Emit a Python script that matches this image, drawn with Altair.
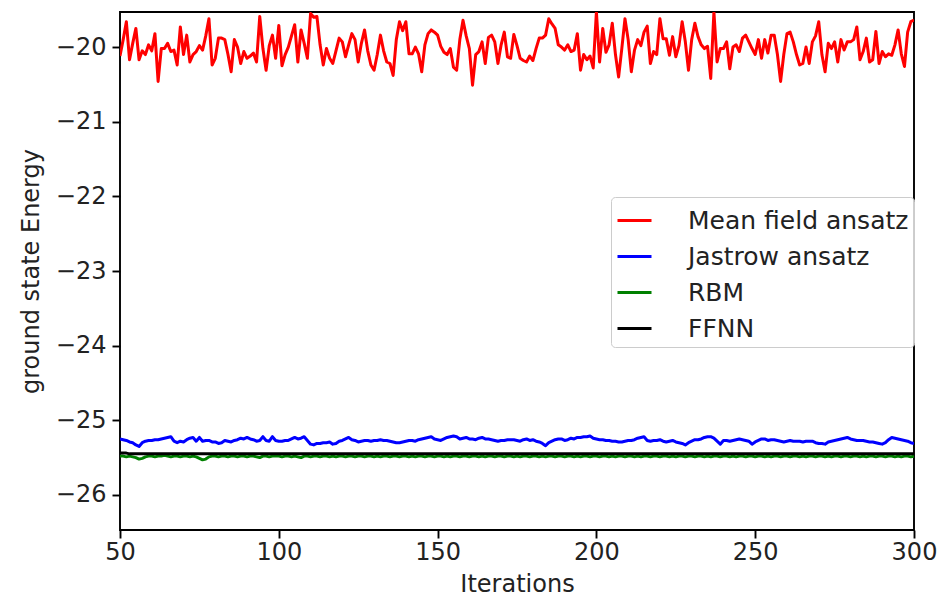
import altair as alt
import pandas as pd

# x values: iterations 50 .. 300
iterations = list(range(50, 301))

# Mean field ansatz (red)
mean_field = [
    -20.12, -19.90, -19.66, -20.17, -19.95, -19.75, -20.17, -20.05, -20.10, -19.97,
    -20.05, -19.82, -20.46, -20.02, -20.02, -19.95, -20.06, -20.04, -20.24, -19.73,
    -20.10, -19.84, -20.20, -20.10, -20.06, -19.98, -20.04, -19.85, -19.62, -20.24,
    -20.15, -19.88, -19.88, -19.90, -20.10, -20.33, -19.90, -20.00, -20.22, -20.06,
    -20.15, -20.12, -20.08, -20.20, -19.59, -20.02, -20.31, -19.98, -19.84, -20.15,
    -19.71, -20.25, -20.10, -20.00, -19.85, -19.70, -20.20, -19.77, -19.95, -20.15,
    -19.55, -19.60, -19.59, -19.97, -20.24, -20.02, -20.15, -20.22, -20.05, -19.88,
    -19.93, -20.13, -19.97, -19.82, -19.90, -20.20, -19.95, -19.77, -20.05, -20.24,
    -20.31, -20.10, -19.84, -20.05, -20.20, -20.22, -20.38, -19.90, -19.66, -19.78,
    -19.66, -20.09, -20.09, -20.00, -20.09, -20.33, -19.97, -19.82, -19.77, -19.80,
    -19.84, -19.99, -20.07, -20.10, -20.02, -20.27, -20.31, -19.90, -19.64, -19.85,
    -20.02, -20.51, -20.10, -20.06, -19.93, -20.22, -19.87, -19.84, -19.93, -20.22,
    -19.97, -19.80, -20.13, -20.15, -19.83, -19.98, -20.15, -20.18, -20.20, -20.12,
    -20.18, -20.02, -19.88, -19.88, -19.84, -19.62, -19.69, -19.75, -19.97, -20.00,
    -20.04, -19.97, -20.06, -20.04, -19.82, -20.31, -20.10, -20.17, -20.12, -20.28,
    -19.53, -20.20, -19.75, -20.07, -19.97, -19.68, -20.10, -20.40, -20.02, -19.62,
    -19.90, -20.33, -20.04, -19.90, -19.98, -19.80, -19.72, -20.22, -20.06, -20.10,
    -19.62, -19.89, -19.89, -20.11, -19.86, -20.13, -19.98, -19.66, -19.93, -20.31,
    -19.90, -19.68, -19.86, -19.97, -20.02, -19.99, -20.42, -19.53, -20.20, -20.02,
    -20.02, -19.93, -20.29, -20.00, -19.97, -20.06, -19.88, -19.84, -19.93, -20.02,
    -20.10, -19.90, -20.15, -19.90, -20.08, -19.84, -19.84, -20.10, -20.46, -20.10,
    -19.82, -19.80, -19.93, -20.10, -20.24, -20.22, -20.00, -20.22, -19.93, -19.85,
    -19.66, -20.10, -20.33, -19.95, -20.02, -19.93, -20.20, -19.90, -20.04, -19.93,
    -19.93, -19.90, -19.73, -20.17, -20.06, -19.88, -20.20, -20.17, -19.79, -20.22,
    -20.06, -20.13, -20.09, -20.11, -19.97, -19.77, -20.09, -20.26, -19.80, -19.66,
    -19.64,
]

# Jastrow ansatz (blue)
jastrow = [
    -25.25, -25.26, -25.27, -25.29, -25.30, -25.33, -25.35, -25.30, -25.28, -25.27,
    -25.27, -25.26, -25.26, -25.25, -25.24, -25.23, -25.22, -25.28, -25.30, -25.28,
    -25.29, -25.26, -25.24, -25.23, -25.28, -25.23, -25.28, -25.27, -25.27, -25.29,
    -25.29, -25.31, -25.30, -25.27, -25.28, -25.29, -25.27, -25.26, -25.24, -25.25,
    -25.23, -25.25, -25.26, -25.28, -25.27, -25.22, -25.27, -25.28, -25.22, -25.27,
    -25.28, -25.28, -25.27, -25.27, -25.25, -25.23, -25.25, -25.24, -25.22, -25.27,
    -25.32, -25.33, -25.31, -25.31, -25.30, -25.30, -25.29, -25.32, -25.31, -25.28,
    -25.27, -25.25, -25.23, -25.26, -25.27, -25.29, -25.28, -25.27, -25.27, -25.28,
    -25.27, -25.27, -25.26, -25.27, -25.27, -25.28, -25.29, -25.30, -25.30, -25.29,
    -25.28, -25.27, -25.27, -25.28, -25.26, -25.25, -25.24, -25.23, -25.22, -25.25,
    -25.26, -25.27, -25.25, -25.23, -25.22, -25.21, -25.22, -25.25, -25.24, -25.23,
    -25.25, -25.25, -25.26, -25.24, -25.23, -25.25, -25.25, -25.26, -25.27, -25.28,
    -25.27, -25.27, -25.26, -25.26, -25.26, -25.27, -25.28, -25.26, -25.25, -25.27,
    -25.26, -25.28, -25.29, -25.31, -25.34, -25.30, -25.28, -25.26, -25.25, -25.25,
    -25.27, -25.26, -25.24, -25.25, -25.23, -25.23, -25.22, -25.22, -25.21, -25.24,
    -25.25, -25.26, -25.26, -25.27, -25.27, -25.28, -25.28, -25.29, -25.29, -25.28,
    -25.27, -25.27, -25.26, -25.24, -25.23, -25.22, -25.27, -25.28, -25.27, -25.27,
    -25.26, -25.28, -25.29, -25.28, -25.27, -25.29, -25.30, -25.31, -25.33, -25.30,
    -25.28, -25.26, -25.26, -25.25, -25.23, -25.22, -25.22, -25.24, -25.28, -25.32,
    -25.27, -25.27, -25.28, -25.27, -25.26, -25.25, -25.26, -25.27, -25.28, -25.32,
    -25.29, -25.27, -25.25, -25.25, -25.27, -25.26, -25.26, -25.27, -25.28, -25.29,
    -25.28, -25.27, -25.28, -25.28, -25.28, -25.29, -25.28, -25.28, -25.28, -25.30,
    -25.31, -25.31, -25.32, -25.29, -25.28, -25.27, -25.26, -25.25, -25.24, -25.23,
    -25.25, -25.26, -25.27, -25.27, -25.27, -25.28, -25.29, -25.29, -25.30, -25.31,
    -25.32, -25.30, -25.26, -25.23, -25.24, -25.25, -25.26, -25.27, -25.28, -25.30,
    -25.31,
]

# RBM (green)
rbm = [
    -25.48, -25.48, -25.49, -25.48, -25.49, -25.50, -25.52, -25.51, -25.49, -25.48,
    -25.48, -25.49, -25.48, -25.48, -25.47, -25.48, -25.49, -25.48, -25.48, -25.49,
    -25.48, -25.48, -25.49, -25.48, -25.49, -25.51, -25.53, -25.52, -25.49, -25.48,
    -25.48, -25.49, -25.48, -25.48, -25.49, -25.48, -25.48, -25.49, -25.48, -25.48,
    -25.49, -25.48, -25.48, -25.49, -25.50, -25.48, -25.48, -25.49, -25.48, -25.48,
    -25.48, -25.49, -25.48, -25.48, -25.49, -25.48, -25.49, -25.50, -25.48, -25.48,
    -25.49, -25.48, -25.48, -25.49, -25.48, -25.48, -25.49, -25.48, -25.49, -25.48,
    -25.48, -25.49, -25.48, -25.48, -25.49, -25.48, -25.48, -25.49, -25.48, -25.48,
    -25.49, -25.48, -25.49, -25.48, -25.48, -25.49, -25.48, -25.48, -25.49, -25.48,
    -25.48, -25.49, -25.48, -25.49, -25.48, -25.48, -25.49, -25.48, -25.48, -25.49,
    -25.48, -25.48, -25.49, -25.48, -25.49, -25.48, -25.48, -25.49, -25.48, -25.48,
    -25.49, -25.48, -25.48, -25.49, -25.48, -25.49, -25.48, -25.48, -25.49, -25.48,
    -25.48, -25.49, -25.48, -25.48, -25.49, -25.48, -25.49, -25.48, -25.48, -25.49,
    -25.48, -25.48, -25.49, -25.48, -25.49, -25.48, -25.48, -25.49, -25.48, -25.48,
    -25.49, -25.48, -25.48, -25.49, -25.48, -25.49, -25.48, -25.48, -25.49, -25.48,
    -25.48, -25.49, -25.48, -25.48, -25.49, -25.48, -25.49, -25.48, -25.48, -25.49,
    -25.48, -25.48, -25.49, -25.48, -25.49, -25.48, -25.48, -25.49, -25.48, -25.48,
    -25.49, -25.48, -25.48, -25.49, -25.48, -25.49, -25.48, -25.48, -25.49, -25.48,
    -25.48, -25.49, -25.48, -25.48, -25.49, -25.48, -25.49, -25.48, -25.48, -25.49,
    -25.48, -25.48, -25.49, -25.48, -25.49, -25.48, -25.48, -25.49, -25.48, -25.48,
    -25.49, -25.48, -25.48, -25.49, -25.48, -25.49, -25.48, -25.48, -25.49, -25.48,
    -25.48, -25.49, -25.48, -25.48, -25.49, -25.48, -25.49, -25.48, -25.48, -25.49,
    -25.48, -25.48, -25.49, -25.48, -25.49, -25.48, -25.48, -25.49, -25.48, -25.48,
    -25.49, -25.48, -25.48, -25.49, -25.48, -25.49, -25.48, -25.48, -25.49, -25.48,
    -25.48, -25.49, -25.48, -25.48, -25.49, -25.48, -25.49, -25.48, -25.48, -25.49,
    -25.48,
]

# FFNN (black): essentially flat
ffnn = [
    -25.44, -25.44, -25.44, -25.45, -25.45, -25.45, -25.45, -25.45, -25.45, -25.45,
    -25.45, -25.45, -25.45, -25.45, -25.45, -25.45, -25.45, -25.45, -25.45, -25.45,
    -25.45, -25.45, -25.45, -25.45, -25.45, -25.45, -25.45, -25.45, -25.45, -25.45,
    -25.45, -25.45, -25.45, -25.45, -25.45, -25.45, -25.45, -25.45, -25.45, -25.45,
    -25.45, -25.45, -25.45, -25.45, -25.45, -25.45, -25.45, -25.45, -25.45, -25.45,
    -25.45, -25.45, -25.45, -25.45, -25.45, -25.45, -25.45, -25.45, -25.45, -25.45,
    -25.45, -25.45, -25.45, -25.45, -25.45, -25.45, -25.45, -25.45, -25.45, -25.45,
    -25.45, -25.45, -25.45, -25.45, -25.45, -25.45, -25.45, -25.45, -25.45, -25.45,
    -25.45, -25.45, -25.45, -25.45, -25.45, -25.45, -25.45, -25.45, -25.45, -25.45,
    -25.45, -25.45, -25.45, -25.45, -25.45, -25.45, -25.45, -25.45, -25.45, -25.45,
    -25.45, -25.45, -25.45, -25.45, -25.45, -25.45, -25.45, -25.45, -25.45, -25.45,
    -25.45, -25.45, -25.45, -25.45, -25.45, -25.45, -25.45, -25.45, -25.45, -25.45,
    -25.45, -25.45, -25.45, -25.45, -25.45, -25.45, -25.45, -25.45, -25.45, -25.45,
    -25.45, -25.45, -25.45, -25.45, -25.45, -25.45, -25.45, -25.45, -25.45, -25.45,
    -25.45, -25.45, -25.45, -25.45, -25.45, -25.45, -25.45, -25.45, -25.45, -25.45,
    -25.45, -25.45, -25.45, -25.45, -25.45, -25.45, -25.45, -25.45, -25.45, -25.45,
    -25.45, -25.45, -25.45, -25.45, -25.45, -25.45, -25.45, -25.45, -25.45, -25.45,
    -25.45, -25.45, -25.45, -25.45, -25.45, -25.45, -25.45, -25.45, -25.45, -25.45,
    -25.45, -25.45, -25.45, -25.45, -25.45, -25.45, -25.45, -25.45, -25.45, -25.45,
    -25.45, -25.45, -25.45, -25.45, -25.45, -25.45, -25.45, -25.45, -25.45, -25.45,
    -25.45, -25.45, -25.45, -25.45, -25.45, -25.45, -25.45, -25.45, -25.45, -25.45,
    -25.45, -25.45, -25.45, -25.45, -25.45, -25.45, -25.45, -25.45, -25.45, -25.45,
    -25.45, -25.45, -25.45, -25.45, -25.45, -25.45, -25.45, -25.45, -25.45, -25.45,
    -25.45, -25.45, -25.45, -25.45, -25.45, -25.45, -25.45, -25.45, -25.45, -25.45,
    -25.45, -25.45, -25.45, -25.45, -25.45, -25.45, -25.45, -25.45, -25.45, -25.45,
    -25.45,
]

labels = ["Mean field ansatz", "Jastrow ansatz", "RBM", "FFNN"]
colors = ["#ff0000", "#0000ff", "#008000", "#000000"]
x_ticks = [50, 100, 150, 200, 250, 300]
y_ticks = [-26, -25, -24, -23, -22, -21, -20]

rows = []
for k, (name, vals) in enumerate(zip(labels, [mean_field, jastrow, rbm, ffnn])):
    for it, v in zip(iterations, vals):
        rows.append({"Iteration": it, "Energy": v, "Ansatz": name, "k": k})
df = pd.DataFrame(rows)

FONT = "DejaVu Sans"
TXT = "#222222"

chart = alt.Chart(df).mark_line(strokeWidth=3, strokeJoin="round", clip=True).encode(
    x=alt.X("Iteration:Q",
            scale=alt.Scale(domain=[50, 300], nice=False, zero=False),
            axis=alt.Axis(title="Iterations", values=x_ticks, format="d",
                          labelFlush=False, labelPadding=2, titlePadding=8)),
    y=alt.Y("Energy:Q",
            scale=alt.Scale(domain=[-26.47, -19.53], nice=False, zero=False),
            axis=alt.Axis(title="ground state Energy", values=y_ticks, format="d",
                          labelFlush=False, labelPadding=6, titlePadding=12)),
    color=alt.Color("Ansatz:N",
                    scale=alt.Scale(domain=labels, range=colors),
                    sort=labels,
                    legend=alt.Legend(title=None, orient="none", legendX=491, legendY=185,
                                      symbolType="stroke", symbolSize=1156, symbolStrokeWidth=3,
                                      labelFontSize=25, labelFont=FONT, labelColor=TXT,
                                      labelOffset=35, rowPadding=4, padding=5,
                                      strokeColor="#cccccc", fillColor="rgba(255,255,255,0.8)",
                                      cornerRadius=4, labelLimit=400)),
    detail="k:O",
).properties(
    width=794, height=518,
    padding={"left": 112, "top": 4, "right": 23, "bottom": 66},
    autosize=alt.AutoSizeParams(type="none"),
).configure_view(
    stroke="#000000", strokeWidth=1.9
).configure_axis(
    grid=False, domain=False,
    tickSize=8, tickWidth=1.9, tickColor="#000000",
    labelFont=FONT, labelFontSize=24, labelColor=TXT,
    titleFont=FONT, titleFontSize=24, titleFontWeight="normal", titleColor=TXT,
)

chart.save("out.html", embed_options={"renderer": "svg", "actions": False})
